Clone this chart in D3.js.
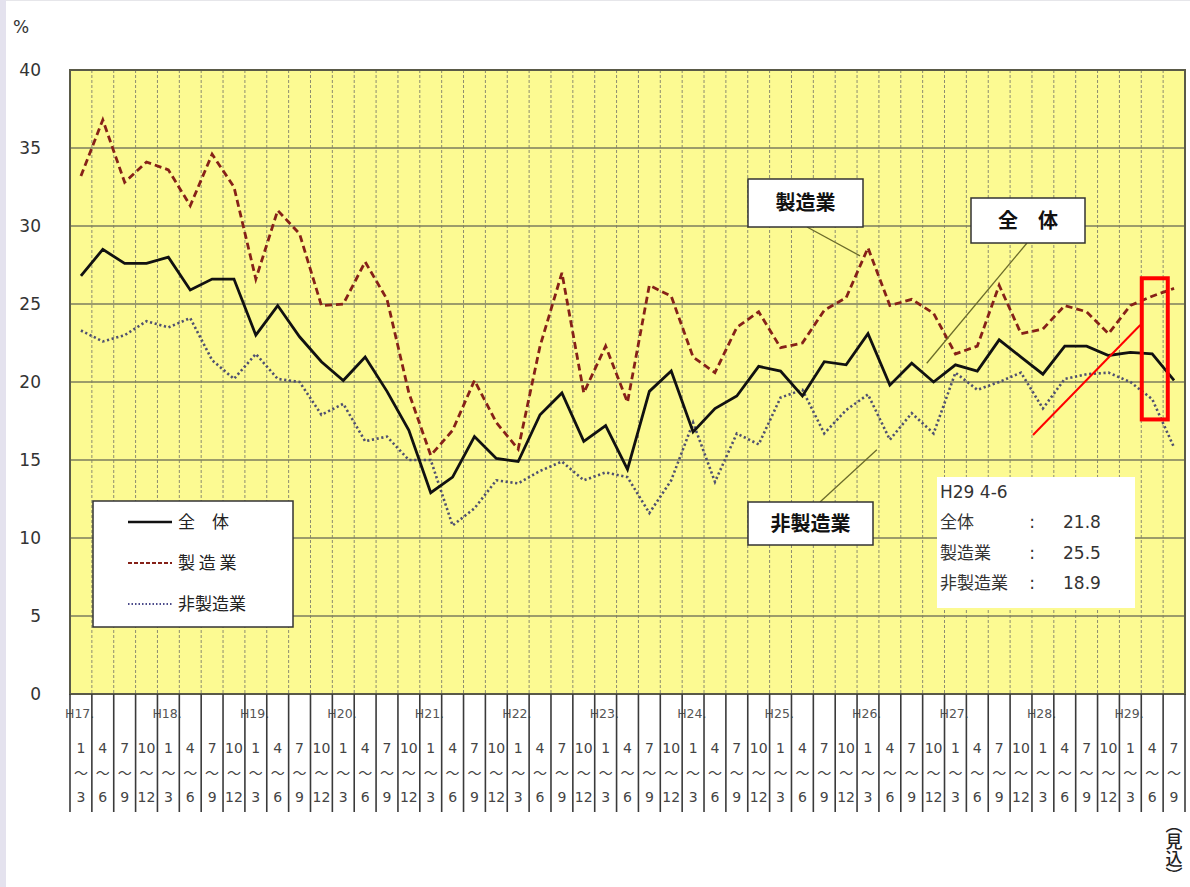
<!DOCTYPE html>
<html><head><meta charset="utf-8">
<script src="https://cdn.jsdelivr.net/npm/d3@7"></script>
<style>
html,body{margin:0;padding:0;background:#fff;}
svg{display:block;}
</style></head>
<body>
<svg id="chart" width="1190" height="887"></svg>
<script>
// ---- data ----
const years = ["H17","H18","H19","H20","H21","H22","H23","H24","H25","H26","H27","H28","H29"];
const quarterStart = ["1","4","7","10"];
const quarterEnd = ["3","6","9","12"];
const yTicks = [0,5,10,15,20,25,30,35,40];
const seriesNames = ["全　体","製 造 業","非製造業"];
// 全体
const total = [26.8,28.5,27.6,27.6,28.0,25.9,26.6,26.6,23.0,24.9,
               22.9,21.3,20.1,21.6,19.4,16.9,12.9,13.9,16.5,15.1,
               14.9,17.9,19.3,16.2,17.2,14.4,19.4,20.7,16.8,18.3,
               19.1,21.0,20.7,19.1,21.3,21.1,23.1,19.8,21.2,20.0,
               21.1,20.7,22.7,21.6,20.5,22.3,22.3,21.7,21.9,21.8,20.1];
// 製造業
const manufacturing = [33.2,36.8,32.8,34.1,33.6,31.3,34.6,32.5,26.6,31.0,
               29.5,24.9,25.0,27.7,25.3,19.3,15.3,16.9,20.1,17.4,
               15.7,22.3,27.0,19.3,22.3,18.7,26.2,25.5,21.6,20.6,
               23.5,24.5,22.2,22.5,24.6,25.4,28.6,24.9,25.3,24.4,
               21.8,22.3,26.2,23.1,23.4,24.9,24.5,23.1,24.9,25.5,26.0];
// 非製造業
const nonManufacturing = [23.3,22.6,23.0,23.9,23.5,24.1,21.4,20.2,21.8,20.2,
               20.0,17.9,18.6,16.2,16.5,15.0,15.0,10.8,11.9,13.7,
               13.5,14.3,14.9,13.7,14.2,13.9,11.6,13.7,17.4,13.6,
               16.7,16.0,19.0,19.5,16.7,18.2,19.2,16.3,18.0,16.7,
               20.6,19.5,20.0,20.6,18.3,20.2,20.5,20.6,20.0,18.9,15.8];
const infoTitle = "H29 4-6";
const infoLabels = ["全体","製造業","非製造業"];
const infoValues = ["21.8","25.5","18.9"];
const forecastLabel = "（見込）";

// categories (quarters) built from label arrays
const categories = [];
years.forEach((yr, yi) => quarterStart.forEach((q, qi) => {
  if (categories.length < total.length) categories.push({year: yr, qi: qi, key: yr + "-" + q});
}));

// ---- layout ----
const L = 70, R = 1185, T = 70, B = 694;
const svg = d3.select("#chart");
const FONT = "'DejaVu Sans','Noto Sans CJK JP',sans-serif";
const JFONT = "'Noto Sans CJK JP','DejaVu Sans',sans-serif";

const x = d3.scaleBand().domain(categories.map(d => d.key)).range([L, R]).padding(0);
const y = d3.scaleLinear().domain([0, 40]).range([B, T]);
const bw = x.bandwidth();
const cx = k => x(k) + bw / 2;

// left lavender strip
svg.append("rect").attr("x",0).attr("y",0).attr("width",6).attr("height",887).attr("fill","#e4e2ee");
svg.append("line").attr("x1",6).attr("x2",1190).attr("y1",0.5).attr("y2",0.5).attr("stroke","#e6e6ea");

// plot background
svg.append("rect").attr("x",L).attr("y",T).attr("width",R-L).attr("height",B-T).attr("fill","#fcfa92");

// vertical dashed gridlines at band boundaries
const bounds = categories.map(d => x(d.key)).slice(1);
svg.append("g").selectAll("line").data(bounds).join("line")
  .attr("x1", d => d).attr("x2", d => d).attr("y1", T).attr("y2", B)
  .attr("stroke", "#8c8c70").attr("stroke-width", 1).attr("stroke-dasharray", "3,2");

// horizontal gridlines
svg.append("g").selectAll("line").data(yTicks.filter(t => t > 0 && t < 40)).join("line")
  .attr("x1", L).attr("x2", R).attr("y1", d => y(d)).attr("y2", d => y(d))
  .attr("stroke", "#7d7d5c").attr("stroke-width", 1.4);

// plot border
svg.append("rect").attr("x",L).attr("y",T).attr("width",R-L).attr("height",B-T)
  .attr("fill","none").attr("stroke","#5a5a48").attr("stroke-width",2);

// y axis
const yAxis = d3.axisLeft(y).tickValues(yTicks).tickSize(0).tickPadding(0);
const ga = svg.append("g").attr("transform", `translate(41,0)`).call(yAxis);
ga.select(".domain").remove();
ga.selectAll("text").attr("font-family", FONT).attr("font-size", 17).attr("fill", "#333").attr("dy","0.35em");
svg.append("text").attr("x", 13).attr("y", 33).text("%").attr("font-family", FONT).attr("font-size", 17).attr("fill","#333");

// x axis labels area
const xg = svg.append("g");
// year labels
xg.selectAll("text.yr").data(categories.filter(d => d.qi === 0)).join("text")
  .attr("class","yr").attr("x", d => x(d.key) - 5).attr("y", 718)
  .text(d => d.year + ".").attr("font-family", FONT).attr("font-size", 12.5).attr("fill", "#555");
// quarter labels
categories.forEach(d => {
  const xc = cx(d.key);
  xg.append("text").attr("x", xc).attr("y", 753).attr("text-anchor","middle")
    .text(quarterStart[d.qi]).attr("font-family", FONT).attr("font-size", 14).attr("fill", "#444");
  xg.append("text").attr("x", xc).attr("y", 778).attr("text-anchor","middle")
    .text("～").attr("font-family", JFONT).attr("font-size", 14).attr("fill", "#444");
  xg.append("text").attr("x", xc).attr("y", 802).attr("text-anchor","middle")
    .text(quarterEnd[d.qi]).attr("font-family", FONT).attr("font-size", 14).attr("fill", "#444");
});
// separator lines
const allBounds = categories.map(d => x(d.key)).concat([R]);
xg.selectAll("line").data(allBounds).join("line")
  .attr("x1", d => d).attr("x2", d => d).attr("y1", B).attr("y2", 812)
  .attr("stroke", "#3a3a3a").attr("stroke-width", 1.6);

// (見込) vertical
const lastX = cx(categories[categories.length-1].key);
svg.append("text").attr("x", lastX).attr("y", 816)
  .style("writing-mode","vertical-rl")
  .text(forecastLabel).attr("font-family", JFONT).attr("font-size", 17).attr("font-weight", 500).attr("fill","#222");

// lines
const lineGen = arr => d3.line().x((d,i) => cx(categories[i].key)).y(d => y(d))(arr);
svg.append("path").attr("d", lineGen(nonManufacturing)).attr("fill","none")
  .attr("stroke","#4f5070").attr("stroke-width",2.6).attr("stroke-dasharray","2.2,2.6");
svg.append("path").attr("d", lineGen(manufacturing)).attr("fill","none")
  .attr("stroke","#862118").attr("stroke-width",2.8).attr("stroke-dasharray","7,4");
svg.append("path").attr("d", lineGen(total)).attr("fill","none")
  .attr("stroke","#111").attr("stroke-width",2.8).attr("stroke-linejoin","miter");

// legend
const lg = svg.append("g");
lg.append("rect").attr("x",93).attr("y",501).attr("width",200).attr("height",126)
  .attr("fill","#fff").attr("stroke","#333").attr("stroke-width",1.5);
const legStyles = [
  {stroke:"#111", dash:null, w:2.6},
  {stroke:"#862118", dash:"4,2", w:2},
  {stroke:"#4a4a8a", dash:"1.5,2", w:2}
];
const legY = [522, 563, 604];
seriesNames.forEach((n,i) => {
  const l = lg.append("line").attr("x1",128).attr("x2",172).attr("y1",legY[i]).attr("y2",legY[i])
    .attr("stroke",legStyles[i].stroke).attr("stroke-width",legStyles[i].w);
  if (legStyles[i].dash) l.attr("stroke-dasharray", legStyles[i].dash);
  lg.append("text").attr("x",178).attr("y",legY[i]).attr("dy","0.36em").text(n)
    .attr("font-family",JFONT).attr("font-size",17).attr("fill","#222");
});

// callouts
const olive = "#6b6b2a";
const callouts = [
  {text:"製造業", bx:748, by:179, bw:115, bh:48, lx1:807, ly1:227, idx:36, series: manufacturing, off:[-8,8]},
  {text:"全　体", bx:971, by:198, bw:114, bh:45, lx1:1027, ly1:243, idx:38, series: total, off:[15,0]},
  {text:"非製造業", bx:748, by:502, bw:125, bh:43, lx1:820, ly1:502, idx:37, series: nonManufacturing, off:[-13,10]}
];
callouts.forEach(c => {
  const px = cx(categories[c.idx].key) + c.off[0];
  const py = y(c.series[c.idx]) + c.off[1];
  svg.append("line").attr("x1",c.lx1).attr("y1",c.ly1).attr("x2",px).attr("y2",py)
    .attr("stroke",olive).attr("stroke-width",1.3);
  svg.append("rect").attr("x",c.bx).attr("y",c.by).attr("width",c.bw).attr("height",c.bh)
    .attr("fill","#fff").attr("stroke","#333").attr("stroke-width",1.5);
  svg.append("text").attr("x",c.bx+c.bw/2).attr("y",c.by+c.bh/2).attr("dy","0.36em").attr("text-anchor","middle")
    .text(c.text).attr("font-family",JFONT).attr("font-size",20).attr("font-weight",700).attr("fill","#111");
});

// info box
const ib = svg.append("g");
ib.append("rect").attr("x",937).attr("y",477).attr("width",198).attr("height",131).attr("fill","#fff");
ib.append("text").attr("x",940).attr("y",498).text(infoTitle).attr("font-family",FONT).attr("font-size",17).attr("fill","#333");
const infoY = [528, 559, 589];
infoLabels.forEach((t,i) => {
  ib.append("text").attr("x",940).attr("y",infoY[i]).text(t).attr("font-family",JFONT).attr("font-size",17).attr("fill","#333");
  ib.append("text").attr("x",1032).attr("y",infoY[i]).attr("text-anchor","middle").text(":").attr("font-family",FONT).attr("font-size",17).attr("fill","#333");
  ib.append("text").attr("x",1063).attr("y",infoY[i]).text(infoValues[i]).attr("font-family",FONT).attr("font-size",17).attr("fill","#333");
});

// red annotation
const hiKey = categories[49].key;
svg.append("rect").attr("x", x(hiKey)+0.5).attr("y", y(26.65)).attr("width", 26).attr("height", y(17.6)-y(26.65))
  .attr("fill","none").attr("stroke","#ff0000").attr("stroke-width",4);
svg.append("line").attr("x1",1033).attr("y1",435).attr("x2",x(hiKey)-1).attr("y2",325)
  .attr("stroke","#ff0000").attr("stroke-width",2);
</script>
</body></html>
